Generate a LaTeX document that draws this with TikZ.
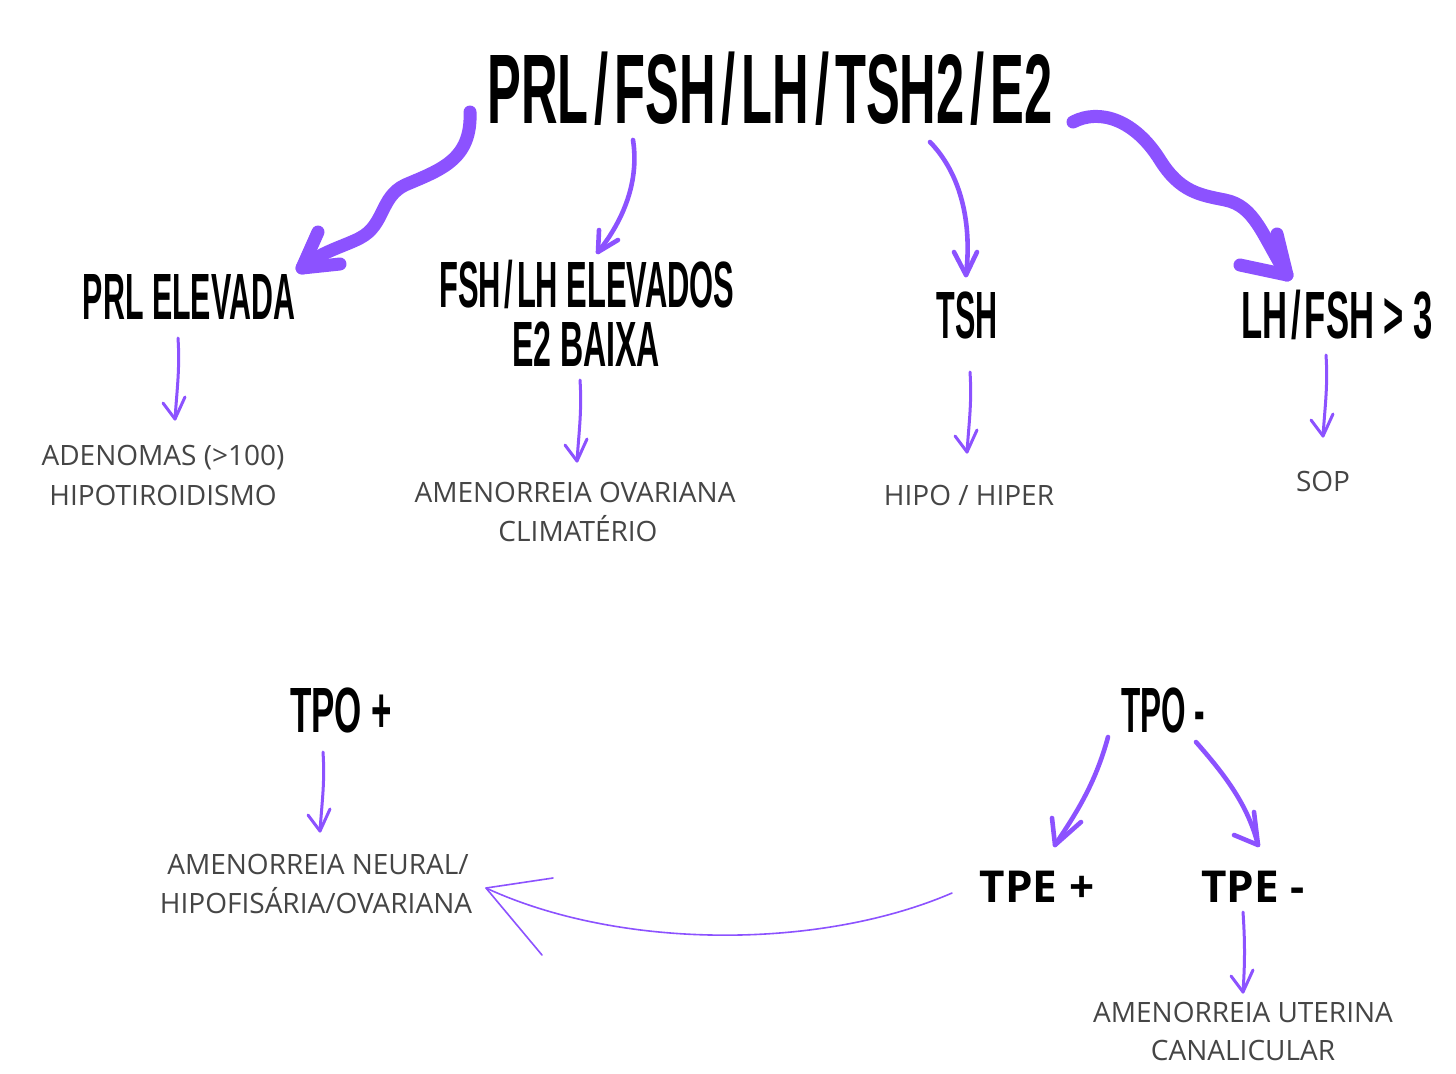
\documentclass[tikz,border=0pt]{standalone}
\usepackage{fontspec}
\usepackage{graphicx}
\usetikzlibrary{calc}
\setmainfont{Open Sans}
\newfontfamily\bebas[FakeStretch=0.6]{Liberation Sans}
\definecolor{lila}{HTML}{8C52FF}
\definecolor{txt}{HTML}{454545}
\newcommand\hd[3]{\resizebox{#1pt}{#2pt}{\bebas\bfseries\smash{#3}\vphantom{E}}}
\newcommand\sls{\kern0.07em/\kern0.07em}
\tikzset{
  head/.style={inner sep=0pt, text=black},
  thin/.style={inner sep=0pt, anchor=base, text=txt, font=\fontsize{14}{19}\selectfont},
  tpe/.style={inner sep=0pt, text=black, font=\fontsize{22}{26}\selectfont\bfseries},
  arr/.style={draw=lila, line cap=round, line join=round},
  fat/.style={arr, line width=6.5pt},
  med/.style={arr, line width=2.3pt},
  sm/.style={arr, line width=1.5pt},
  hair/.style={arr, line width=0.8pt}
}
\begin{document}
\begin{tikzpicture}[x=0.5pt,y=-0.5pt]
\useasboundingbox[fill=white] (0,0) rectangle (1456,1073);
% headings
\node[head] (title) at (770,89) {\hd{282.5}{34}{PRL\sls FSH\sls LH\sls TSH2\sls E2}};
\node[head] (prl) at (189,297) {\hd{106}{22.5}{PRL ELEVADA}};
\node[head] (fsh1) at (587,285) {\hd{147.5}{22.5}{FSH\sls LH ELEVADOS}};
\node[head] (fsh2) at (586,344) {\hd{74}{22}{E2 BAIXA}};
\node[head] (tsh) at (967,315) {\hd{30.5}{23}{TSH}};
\node[head] (lhfsh) at (1337,315) {\hd{96}{23}{LH\sls FSH > 3}};
\node[head] (tpop) at (341,710) {\hd{51}{22}{TPO +}};
\node[head] (tpom) at (1163,710) {\hd{42}{22}{TPO -}};
\node[tpe] (tpep) at (1037,887) {TPE +};
\node[tpe] (tpem) at (1253,887) {TPE -};
% thin texts
\node[thin] (aden) at (163,465) {ADENOMAS (>100)};
\node[thin] (hipot) at (163,505) {HIPOTIROIDISMO};
\node[thin] (amov) at (575,502) {AMENORREIA OVARIANA};
\node[thin] (clim) at (578,541) {CLIMATÉRIO};
\node[thin] (hipo) at (969,505) {HIPO / HIPER};
\node[thin] (sop) at (1323,491) {SOP};
\node[thin] (amne) at (318,874) {AMENORREIA NEURAL/};
\node[thin] (hipof) at (316,913) {HIPOFISÁRIA/OVARIANA};
\node[thin] (amut) at (1243,1022) {AMENORREIA UTERINA};
\node[thin] (canal) at (1243,1060) {CANALICULAR};
% connector end points
\coordinate (a1s) at (470,112);  \coordinate (a1t) at (302,268);
\coordinate (a2s) at (633,140);  \coordinate (a2t) at (598,252);
\coordinate (a3s) at (930,142);  \coordinate (a3t) at (966,275);
\coordinate (a4s) at (1073,122); \coordinate (a4t) at (1287,275);
% big arrows
\draw[fat] (a1s) .. controls (472,160) and (440,170) .. (405,185)
  .. controls (380,197) and (385,225) .. (360,238)
  .. controls (345,246) and (320,252) .. (a1t);
\draw[fat] (318,232) -- (a1t) -- (340,264);
\draw[med] (a2s) .. controls (640,185) and (620,225) .. (a2t);
\draw[med] (599,230) -- (a2t) -- (618,240);
\draw[med] (a3s) .. controls (962,175) and (972,225) .. (a3t);
\draw[med] (954,252) -- (a3t) -- (977,252);
\draw[fat] (a4s) .. controls (1100,108) and (1135,120) .. (1160,160)
  .. controls (1180,192) and (1200,195) .. (1225,200)
  .. controls (1255,206) and (1262,235) .. (a4t);
\draw[fat] (1277,234) -- (a4t) -- (1240,265);
% small down arrows
\coordinate (s1s) at (178,338);  \coordinate (s1t) at (175,419);
\coordinate (s2s) at (580,380);  \coordinate (s2t) at (577,461);
\coordinate (s3s) at (970,372);  \coordinate (s3t) at (967,452);
\coordinate (s4s) at (1326,355); \coordinate (s4t) at (1323,436);
\coordinate (s5s) at (323,752);  \coordinate (s5t) at (320,831);
\coordinate (s6s) at (1243,912); \coordinate (s6t) at (1243,992);
\foreach \s/\t in {s1s/s1t,s2s/s2t,s3s/s3t,s4s/s4t,s5s/s5t,s6s/s6t}{
  \draw[sm] (\s) .. controls ($(\s)+(2,30)$) and ($(\t)+(2,-30)$) .. (\t);
  \draw[sm] ($(\t)+(-12,-16)$) -- (\t) -- ($(\t)+(10,-22)$);
}
% TPO- branches
\coordinate (b1s) at (1108,737); \coordinate (b1t) at (1055,845);
\coordinate (b2s) at (1196,742); \coordinate (b2t) at (1258,845);
\draw[med] (b1s) .. controls (1095,785) and (1075,815) .. (b1t);
\draw[med] (1052,818) -- (b1t) -- (1081,822);
\draw[med] (b2s) .. controls (1225,775) and (1248,805) .. (b2t);
\draw[med] (1254,812) -- (b2t) -- (1234,835);
% long return arrow
\coordinate (rs) at (952,893); \coordinate (rt) at (486,888);
\draw[hair] (rs) .. controls (820,950) and (620,950) .. (rt);
\draw[hair] (553,878) -- (rt) -- (542,955);
\end{tikzpicture}
\end{document}
